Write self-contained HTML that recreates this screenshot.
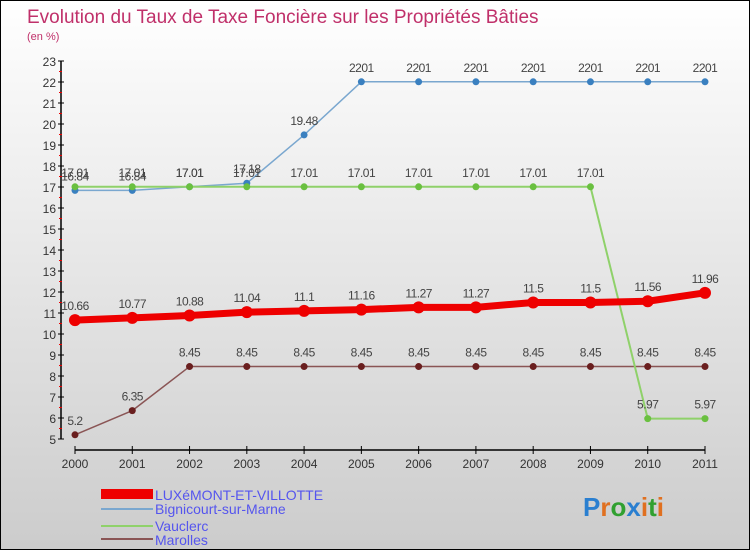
<!DOCTYPE html>
<html><head><meta charset="utf-8"><style>
body{margin:0}
#c{width:748px;height:548px;border:1px solid #000;background:linear-gradient(#fff,#ccc);position:relative;overflow:hidden;font-family:"Liberation Sans",sans-serif}
</style></head><body>
<div id="c">
<svg id="s" width="748" height="548">
<text x="26" y="22" font-size="19" fill="#c0306a">Evolution du Taux de Taxe Foncière sur les Propriétés Bâties</text>
<text x="26" y="39" font-size="11" fill="#c0306a">(en %)</text>
<g id="g"></g>
<g>
<rect x="100" y="488" width="52" height="10" fill="#e00"/>
<text x="154" y="499" font-size="14" fill="#5555ee">LUXéMONT-ET-VILLOTTE</text>
<line x1="100" y1="508" x2="152" y2="508" stroke="#7aa7cf" stroke-width="2"/>
<text x="154" y="513" font-size="14" fill="#5555ee">Bignicourt-sur-Marne</text>
<line x1="100" y1="525" x2="152" y2="525" stroke="#8fd16a" stroke-width="2"/>
<text x="154" y="530" font-size="14" fill="#5555ee">Vauclerc</text>
<line x1="100" y1="538" x2="152" y2="538" stroke="#8a5555" stroke-width="2"/>
<text x="154" y="544" font-size="14" fill="#5555ee">Marolles</text>
</g>
<text x="582" y="515" font-size="26" font-weight="bold"><tspan fill="#2a7fd0">P</tspan><tspan fill="#e07020">r</tspan><tspan fill="#30a030">o</tspan><tspan fill="#2a7fd0">x</tspan><tspan fill="#e07020">i</tspan><tspan fill="#30a030">t</tspan><tspan fill="#e07020">i</tspan></text>
</svg></div>
<script>
const years=[2000,2001,2002,2003,2004,2005,2006,2007,2008,2009,2010,2011];
const yTicks=[5,6,7,8,9,10,11,12,13,14,15,16,17,18,19,20,21,22,23];
const luxemont=[10.66,10.77,10.88,11.04,11.1,11.16,11.27,11.27,11.5,11.5,11.56,11.96];
const bignicourt=[16.84,16.84,17.01,17.18,19.48,22.01,22.01,22.01,22.01,22.01,22.01,22.01];
const vauclerc=[17.01,17.01,17.01,17.01,17.01,17.01,17.01,17.01,17.01,17.01,5.97,5.97];
const marolles=[5.2,6.35,8.45,8.45,8.45,8.45,8.45,8.45,8.45,8.45,8.45,8.45];
const X=i=>74+i*(630/11), Y=v=>438-(v-5)*21;
const g=document.getElementById('g'),NS='http://www.w3.org/2000/svg';
function mk(t,a,p){const e=document.createElementNS(NS,t);for(const k in a)e.setAttribute(k,a[k]);(p||g).appendChild(e);return e;}
let ax=mk('line',{x1:60,y1:Y(23),x2:60,y2:Y(5),stroke:'#000','stroke-width':1.5});

yTicks.forEach(v=>{mk('line',{x1:57,x2:63,y1:Y(v),y2:Y(v),stroke:'#000'});
 if(v<23)mk('line',{x1:58,x2:61,y1:Y(v+0.5),y2:Y(v+0.5),stroke:'#e00'});
 let t=mk('text',{x:55,y:Y(v)+5,'font-size':12,fill:'#333','text-anchor':'end'});t.textContent=v;
 });
let xa=mk('line',{x1:X(0),y1:449,x2:X(11),y2:449,stroke:'#000','stroke-width':1.5});

years.forEach((y,i)=>{mk('line',{x1:X(i),x2:X(i),y1:445,y2:453,stroke:'#000'});
 let t=mk('text',{x:X(i),y:467,'font-size':12,fill:'#333','text-anchor':'middle'});t.textContent=y;
 });
function series(d,name,col,dot,w,r){
 const s=mk('g',{});
 mk('polyline',{points:d.map((v,i)=>X(i)+','+Y(v)).join(' '),fill:'none',stroke:col,'stroke-width':w,'stroke-linejoin':'round'},s);
 d.forEach((v,i)=>{const c=mk('circle',{cx:X(i),cy:Y(v),r:r,fill:dot},s);
  
  const t=mk('text',{x:X(i),y:Y(v)-10,'font-size':12,fill:'#444','text-anchor':'middle','letter-spacing':'-0.5'},s);
  t.textContent=String(v).replace('22.01','2201');});
}
series(marolles,'marolles','#8a5555','#6a1f1f',1.5,3.5);
series(bignicourt,'bignicourt','#7aa7cf','#3a80c0',1.5,3.5);
series(vauclerc,'vauclerc','#8fd16a','#6ac040',2,3.5);
series(luxemont,'luxemont','#e00','#e00',7,6);
</script></body></html>
